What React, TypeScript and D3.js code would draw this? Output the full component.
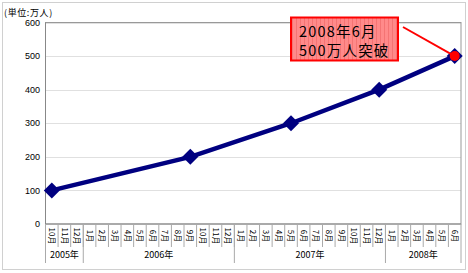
import React from "react";
import * as d3 from "d3";

const years = ["2005年", "2006年", "2007年", "2008年"];
const yearMonths = [
  [10, 11, 12],
  [1, 2, 3, 4, 5, 6, 7, 8, 9, 10, 11, 12],
  [1, 2, 3, 4, 5, 6, 7, 8, 9, 10, 11, 12],
  [1, 2, 3, 4, 5, 6],
];
const pointKeys = ["2005-10", "2006-9", "2007-5", "2007-12", "2008-6"];
const pointValues = [100, 200, 300, 400, 500];
const yTicks = [0, 100, 200, 300, 400, 500, 600];
const unitLabel = "(単位:万人)";
const noteLines = ["2008年6月", "500万人突破"];

const categories: { key: string; year: number; month: number }[] = [];
years.forEach((y, i) =>
  yearMonths[i].forEach((m) => categories.push({ key: `${2005 + i}-${m}`, year: i, month: m }))
);

export default function App() {
  const W = 468, H = 273;
  const left = 45.5, right = 461, top = 22.5, bottom = 224;
  const x = d3.scaleBand<string>().domain(categories.map((c) => c.key)).range([left, right]).padding(0);
  const y = d3.scaleLinear().domain([0, 600]).range([bottom, top]);
  const bw = x.bandwidth();
  const pts = pointKeys.map((k, i) => [x(k)! + bw / 2, y(pointValues[i])] as [number, number]);
  const line = d3.line()(pts) || "";
  const font = "'Liberation Sans', Arial, sans-serif";
  const cjk = "'Noto Sans CJK JP', 'Liberation Sans', sans-serif";

  const yearBounds: number[] = [];
  let idx = 0;
  yearBounds.push(left);
  yearMonths.forEach((ms) => {
    idx += ms.length;
    yearBounds.push(idx < categories.length ? x(categories[idx].key)! : right);
  });

  const last = pts[pts.length - 1];
  const box = { x: 291, y: 17.5, w: 107, h: 43 };
  const diamond = (p: [number, number]) =>
    `M${p[0]},${p[1] - 8}L${p[0] + 8},${p[1]}L${p[0]},${p[1] + 8}L${p[0] - 8},${p[1]}Z`;

  return (
    <svg width={W} height={H} style={{ position: "absolute", left: 0, top: 0 }}>
      <defs>
        <pattern id="stripes" width="4" height="4" patternUnits="userSpaceOnUse">
          <rect width="4" height="4" fill="#ff8a8a" />
          <rect width="1" height="4" fill="#f47474" />
        </pattern>
      </defs>
      <rect x={0} y={0} width={W} height={H} fill="#fff" />
      <rect x={2.5} y={2.5} width={463} height={267} fill="none" stroke="#d0d0d0" />
      {yTicks.filter((t) => t > 0).map((t) => (
        <line key={t} x1={left} x2={right} y1={Math.round(y(t)) + 0.5} y2={Math.round(y(t)) + 0.5} stroke="#e0e0e0" />
      ))}
      <rect x={left} y={top} width={right - left} height={bottom - top} fill="none" stroke="#999" />
      <line x1={left} x2={left} y1={top} y2={bottom} stroke="#888" />
      <line x1={left} x2={right} y1={bottom} y2={bottom} stroke="#888" />
      {yTicks.map((t) => (
        <text key={t} x={40} y={y(t)} dy="0.35em" textAnchor="end" fontSize={9} fontFamily={font} fill="#000">
          {t}
        </text>
      ))}
      <text x={4} y={16} fontSize={9} fontFamily={cjk} fill="#000" letterSpacing={0.6}>{unitLabel}</text>
      {categories.map((c, i) => {
        const cx = x(c.key)!;
        return (
          <g key={c.key}>
            {i > 0 && <line x1={cx} x2={cx} y1={bottom} y2={247} stroke="#aaa" />}
            <text
              transform={`translate(${cx + bw / 2},${236}) rotate(90)`}
              textAnchor="middle"
              dy="0.35em"
              fontSize={8}
              fontFamily={cjk}
              fill="#000"
            >
              {c.month}月
            </text>
          </g>
        );
      })}
      {yearBounds.map((b, i) => (
        <line key={i} x1={b} x2={b} y1={bottom} y2={263} stroke="#aaa" />
      ))}
      {years.map((yr, i) => (
        <text key={yr} x={(yearBounds[i] + yearBounds[i + 1]) / 2} y={258} textAnchor="middle" fontSize={9} fontFamily={cjk} fill="#000">
          {yr}
        </text>
      ))}
      <path d={line} fill="none" stroke="#000080" strokeWidth={4.5} />
      {pts.map((p, i) => (
        <path key={i} d={diamond(p)} fill="#000080" />
      ))}
      <line x1={403} y1={27} x2={last[0]} y2={last[1]} stroke="#ff0000" strokeWidth={2} />
      <circle cx={last[0]} cy={last[1]} r={5} fill="#ff0000" />
      <rect x={box.x} y={box.y} width={box.w} height={box.h} fill="url(#stripes)" stroke="#ff0000" strokeWidth={2} />
      {noteLines.map((t, i) => (
        <text key={i} x={299} y={36.5 + i * 19} fontSize={14.5} fontFamily={cjk} fill="#000" letterSpacing={1.2}>
          {t}
        </text>
      ))}
    </svg>
  );
}
